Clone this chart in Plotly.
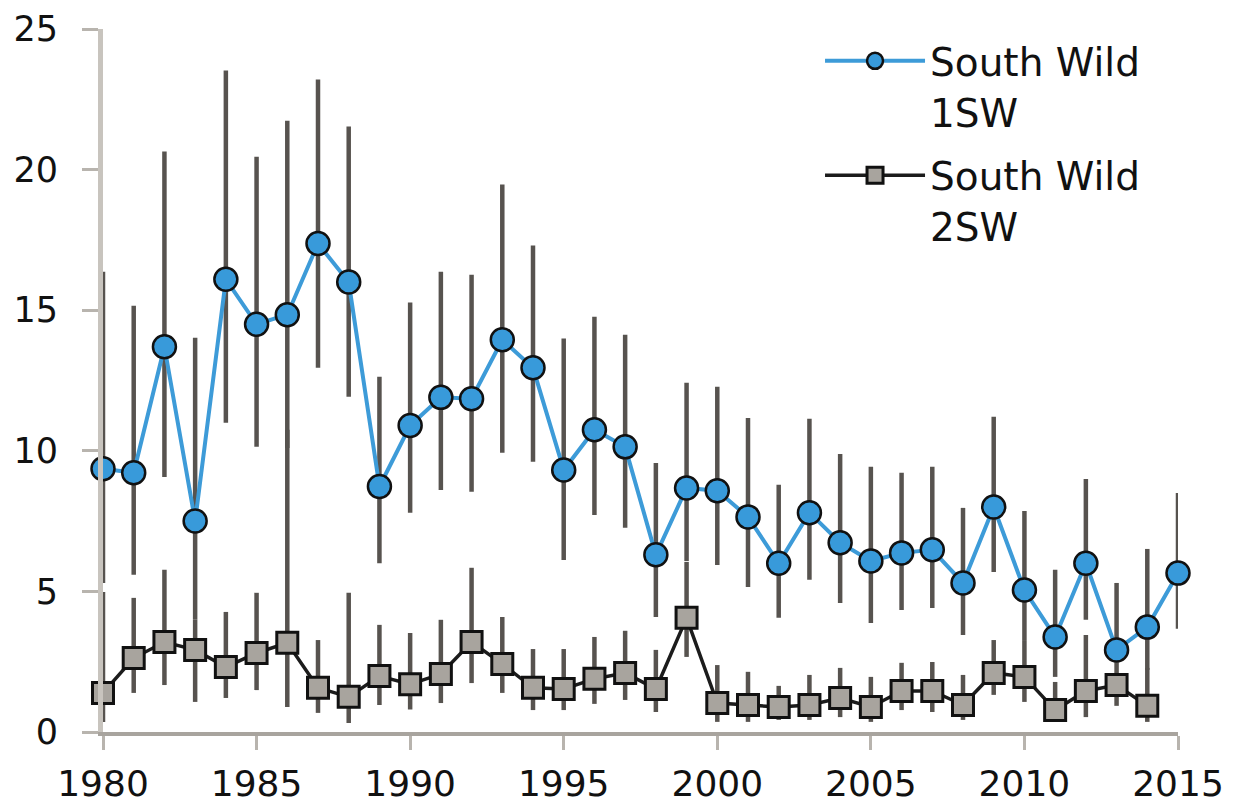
import plotly.graph_objects as go

# Years on the x axis
years_1sw = list(range(1980, 2016))
years_2sw = list(range(1980, 2015))

# South Wild 1SW: value, upper and lower interval ends
sw1 = [9.36, 9.22, 13.7, 7.5, 16.1, 14.5, 14.84, 17.37, 16.0, 8.73,
       10.9, 11.9, 11.85, 13.95, 12.95, 9.32, 10.75, 10.14, 6.3, 8.68,
       8.58, 7.65, 6.0, 7.8, 6.73, 6.08, 6.37, 6.48, 5.3, 8.0,
       5.05, 3.38, 6.0, 2.92, 3.73, 5.65]
sw1_hi = [16.37, 15.16, 20.64, 14.02, 23.52, 20.46, 21.74, 23.2, 21.53, 12.63,
          15.27, 16.37, 16.26, 19.47, 17.3, 13.99, 14.77, 14.13, 9.57, 12.42,
          12.28, 11.17, 8.79, 11.14, 9.89, 9.43, 9.22, 9.43, 7.97, 11.21,
          7.86, 5.77, 9.0, 5.3, 6.51, 8.5]
sw1_lo = [5.30, 5.59, 9.07, 3.99, 11.0, 10.14, 10.1, 12.95, 11.92, 6.0,
          7.8, 8.61, 8.54, 9.93, 9.61, 6.12, 7.72, 7.26, 4.09, 6.08,
          5.94, 5.16, 4.06, 5.41, 4.59, 3.88, 4.34, 4.41, 3.45, 5.69,
          3.27, 1.96, 3.99, 2.46, 2.21, 3.67]

# South Wild 2SW
sw2 = [1.39, 2.63, 3.2, 2.92, 2.31, 2.81, 3.17, 1.57, 1.25, 1.99,
       1.7, 2.06, 3.2, 2.42, 1.57, 1.53, 1.89, 2.1, 1.53, 4.06,
       1.03, 0.96, 0.89, 0.96, 1.21, 0.89, 1.46, 1.46, 0.96, 2.1,
       1.96, 0.78, 1.46, 1.67, 0.93]
sw2_hi = [4.98, 4.77, 5.77, 3.99, 4.27, 4.95, 10.75, 3.27, 4.95, 3.81,
          3.52, 3.99, 5.84, 4.09, 2.95, 2.95, 3.38, 3.6, 2.92, 6.05,
          2.38, 2.14, 1.64, 2.03, 2.28, 1.96, 2.46, 2.49, 2.03, 3.27,
          3.27, 1.78, 3.45, 2.46, 2.28]
sw2_lo = [0.36, 1.39, 1.67, 1.07, 1.21, 1.49, 0.89, 0.68, 0.32, 0.96,
          0.8, 1.03, 1.74, 1.39, 0.78, 0.78, 1.0, 1.14, 0.71, 2.67,
          0.36, 0.36, 0.43, 0.43, 0.53, 0.36, 0.78, 0.71, 0.43, 1.32,
          1.07, 0.43, 0.53, 0.93, 0.36]

y_ticks = [0, 5, 10, 15, 20, 25]
x_ticks = [1980, 1985, 1990, 1995, 2000, 2005, 2010, 2015]

FONT = "DejaVu Sans"
BAR_COLOR = "#57534f"


def error_spec(vals, hi, lo):
    return dict(
        type="data",
        symmetric=False,
        array=[h - v for h, v in zip(hi, vals)],
        arrayminus=[v - l for v, l in zip(vals, lo)],
        color=BAR_COLOR,
        thickness=4.5,
        width=0,
    )


fig = go.Figure()

fig.add_trace(
    go.Scatter(
        x=years_2sw,
        y=sw2,
        name="South Wild<br>2SW",
        mode="lines+markers",
        line=dict(color="#1c1c1c", width=3.5),
        marker=dict(symbol="square", size=21, color="#a8a49e",
                    line=dict(color="#111111", width=3)),
        error_y=error_spec(sw2, sw2_hi, sw2_lo),
        cliponaxis=False,
        legendgroup="b",
        legendrank=2,
    )
)

fig.add_trace(
    go.Scatter(
        x=years_1sw,
        y=sw1,
        name="South Wild<br>1SW",
        mode="lines+markers",
        line=dict(color="#3d9bd8", width=4),
        marker=dict(symbol="circle", size=23, color="#389ada",
                    line=dict(color="#111111", width=2.5)),
        error_y=error_spec(sw1, sw1_hi, sw1_lo),
        cliponaxis=False,
        legendgroup="a",
        legendrank=1,
    )
)

# the page puts the figure 8px in from the top-left corner
fig.update_layout(
    width=1234,
    height=800,
    margin=dict(l=95, r=64, t=21, b=76, autoexpand=False),
    paper_bgcolor="white",
    plot_bgcolor="white",
    font=dict(family=FONT, size=37, color="#111111"),
    showlegend=True,
    legend=dict(
        x=0.667,
        y=1.0,
        xanchor="left",
        yanchor="top",
        itemwidth=100,
        valign="top",
        tracegroupgap=10,
        font=dict(family=FONT, size=39, color="#111111"),
        bgcolor="rgba(0,0,0,0)",
    ),
)

fig.update_xaxes(
    range=[1980, 2015],
    tickvals=x_ticks,
    automargin=False,
    showgrid=False,
    zeroline=False,
    showline=True,
    linecolor="#a8a49e",
    linewidth=4,
    ticks="outside",
    ticklen=14,
    tickwidth=3,
    tickcolor="#b8b4ae",
    ticklabelstandoff=3,
    tickfont=dict(family=FONT, size=36, color="#111111"),
)

fig.update_yaxes(
    range=[0, 25],
    tickvals=y_ticks,
    automargin=False,
    showgrid=False,
    zeroline=False,
    showline=True,
    linecolor="#c8c4be",
    linewidth=5,
    ticks="outside",
    ticklen=16,
    tickwidth=3,
    tickcolor="#b8b4ae",
    ticklabelstandoff=17,
    tickfont=dict(family=FONT, size=35, color="#111111"),
)

fig.write_html("out.html")
